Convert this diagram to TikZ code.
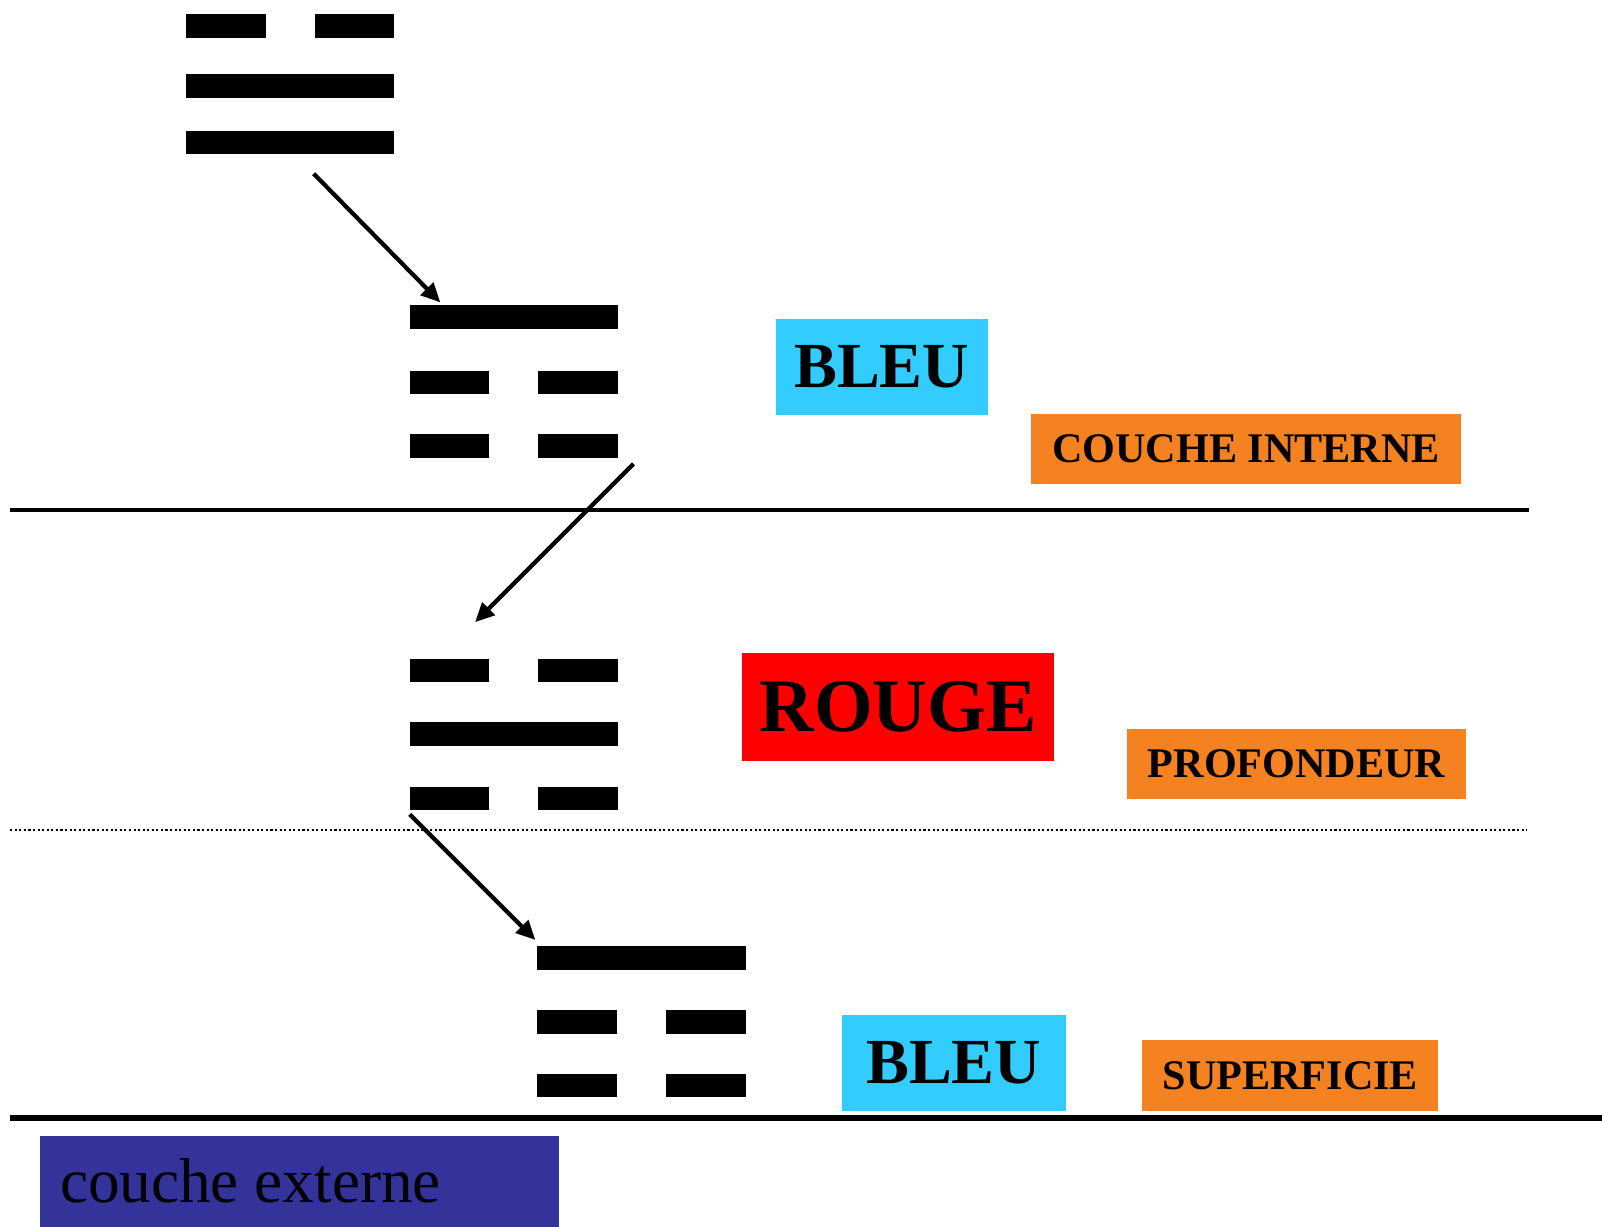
\documentclass[tikz,border=0pt]{standalone}
\usepackage{fontspec}
\setmainfont{Liberation Serif}
\usetikzlibrary{arrows.meta}
\definecolor{skyfill}{HTML}{33CCFF}
\definecolor{amber}{HTML}{F58220}
\definecolor{rougefill}{HTML}{FF0000}
\definecolor{navy}{HTML}{333399}
\tikzset{
  yang/.style={fill=black, inner sep=0pt, minimum width=2.084cm, minimum height=0.235cm},
  yin/.style={fill=black, inner sep=0pt, minimum width=0.797cm, minimum height=0.235cm},
  move/.style={draw=black, line width=1.2pt, -{Triangle[length=5.5pt,width=5pt]}},
  layer/.style={draw=black, line width=1.3pt},
  colourbox/.style={inner sep=0pt, font=\fontsize{18.3}{20}\selectfont\bfseries},
  tagbox/.style={fill=amber, inner sep=0pt, minimum height=0.705cm, font=\fontsize{12}{14}\selectfont\bfseries},
}

\begin{document}
\begin{tikzpicture}[x=0.010217cm, y=-0.010217cm]
  \useasboundingbox (0,0) rectangle (1568,1200);
  % layers
  \draw[layer] (10,499) -- (1497,499);
  \draw[line width=0.5pt, dash pattern=on 0.6pt off 0.7pt] (10,812) -- (1495,812);
  \draw[line width=1.75pt] (10,1094) -- (1568,1094);
  % trigrams
  \foreach \x/\y [count=\i] in {182/84, 182/139.5, 401/310.5, 401/718.5, 526/937.5}
    \node[yang] (yang\i) at (\x+102,\y) {};
  \foreach \x/\y [count=\i] in {182/25.5, 401/374.5, 401/436.5, 401/656.5, 401/781.5, 526/1000.5, 526/1062.5}{
    \node[yin] (yinl\i) at (\x+39,\y) {};
    \node[yin] (yinr\i) at (\x+165,\y) {};
  }
  % arrows
  \coordinate (a1) at (307,170);
  \coordinate (b1) at (431,296);
  \coordinate (a2) at (620,454);
  \coordinate (b2) at (465,609);
  \coordinate (a3) at (401,797);
  \coordinate (b3) at (524,920);
  \draw[move] (a1) -- (b1);
  \draw[move] (a2) -- (b2);
  \draw[move] (a3) -- (b3);
  % labels
  \node[colourbox, fill=skyfill, minimum width=2.125cm, minimum height=0.960cm] (bleuA) at (863,359) {BLEU};
  \node[tagbox, minimum width=4.301cm] (interne) at (1219.5,439.5) {COUCHE INTERNE};
  \node[colourbox, fill=rougefill, minimum width=3.126cm, minimum height=1.083cm,
        font=\fontsize{21.5}{24}\selectfont\bfseries] (rouge) at (879,692) {ROUGE};
  \node[tagbox, minimum width=3.392cm] (profond) at (1269,748) {PROFONDEUR};
  \node[colourbox, fill=skyfill, minimum width=2.238cm, minimum height=0.960cm] (bleuB) at (933.5,1040) {BLEU};
  \node[tagbox, minimum width=2.963cm] (superf) at (1263,1052.5) {SUPERFICIE};
  \node[fill=navy, anchor=north west, inner sep=0pt, minimum width=5.2cm, minimum height=0.909cm,
        font=\fontsize{18}{20}\selectfont] (externe) at (38,1111) {\makebox[4.79cm][l]{couche externe}};
\end{tikzpicture}
\end{document}
